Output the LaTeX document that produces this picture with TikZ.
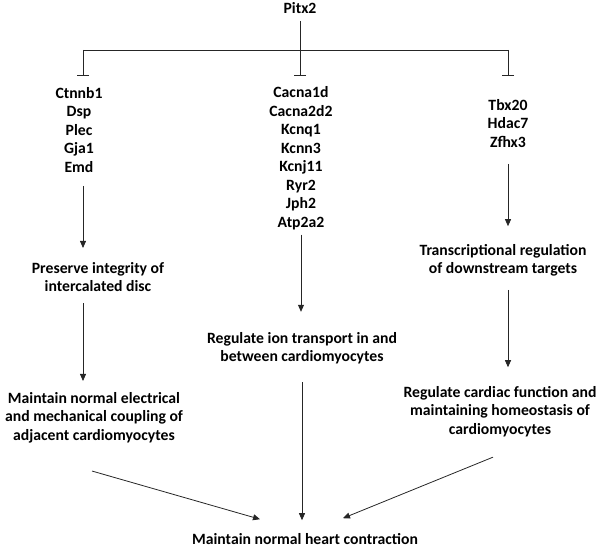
\documentclass[tikz,border=0pt]{standalone}
\usepackage{fontspec}
\setmainfont{Carlito}
\usetikzlibrary{arrows.meta}

\tikzset{
  txt/.style={font=\bfseries\fontsize{15.7}{18.5}\selectfont, align=center, inner sep=0pt},
  link/.style={line width=0.8pt, black!85},
  arr/.style={link, -{Triangle[length=7pt,width=6pt]}},
  inh/.style={link, -{Bar[width=12pt]}},
}

\begin{document}
\begin{tikzpicture}[x=1pt,y=-1pt]
\useasboundingbox (0,0) rectangle (600,551);

\node[txt] (pitx) at (300,8) {Pitx2};

\coordinate (split) at (300,50);
\coordinate (barL) at (83,76);
\coordinate (barM) at (300,76);
\coordinate (barR) at (508,76);

\draw[link, shorten <=7pt] (pitx.south) -- (split);
\draw[link] (barL |- split) -- (barR |- split);
\draw[inh] (barL |- split) -- (barL);
\draw[inh] (split) -- (barM);
\draw[inh] (barR |- split) -- (barR);


\begin{scope}[xshift=0pt]{
\node[txt] (genesL) at (79,130) {Ctnnb1\\Dsp\\Plec\\Gja1\\Emd};
\node[txt] (preserve) at (98,277) {Preserve integrity of\\intercalated disc};
\node[txt] (coupling) at (94,417.5) {Maintain normal electrical\\and mechanical coupling of\\adjacent cardiomyocytes};

\draw[arr, shorten <=13pt, shorten >=14pt] (genesL.south -| barL) -- (preserve.north -| barL);
\draw[arr, shorten <=11pt, shorten >=11pt] (preserve.south -| barL) -- (coupling.north -| barL);
} \end{scope}

\begin{scope}[xshift=0pt]{
\node[txt] (genesM) at (301,158) {Cacna1d\\Cacna2d2\\Kcnq1\\Kcnn3\\Kcnj11\\Ryr2\\Jph2\\Atp2a2};
\node[txt] (ion) at (302,348) {Regulate ion transport in and\\between cardiomyocytes};

\draw[arr, shorten <=5pt, shorten >=20pt] (genesM.south) -- (ion.north -| genesM.south);
} \end{scope}

\begin{scope}[xshift=0pt]{
\node[txt] (genesR) at (508,123.5) {Tbx20\\Hdac7\\Zfhx3};
\node[txt] (transc) at (503,260.5) {Transcriptional regulation\\of downstream targets};
\node[txt] (homeo) at (500,411.7) {Regulate cardiac function and\\maintaining homeostasis of\\cardiomyocytes};

\draw[arr, shorten <=16pt, shorten >=18pt] (genesR.south) -- (transc.north -| genesR.south);
\draw[arr, shorten <=13pt, shorten >=19pt] (transc.south -| genesR.south) -- (homeo.north -| genesR.south);
} \end{scope}

\node[txt] (heart) at (305,539) {Maintain normal heart contraction};

\draw[arr, shorten <=18pt, shorten >=13pt] (ion.south) -- (heart.north -| ion.south);
\draw[arr] ([xshift=-2pt,yshift=-28pt]coupling.south) -- ([xshift=-45pt,yshift=14pt]heart.north);
\draw[arr] ([xshift=-7pt,yshift=-20pt]homeo.south) -- ([xshift=38pt,yshift=15pt]heart.north);

\end{tikzpicture}
\end{document}
